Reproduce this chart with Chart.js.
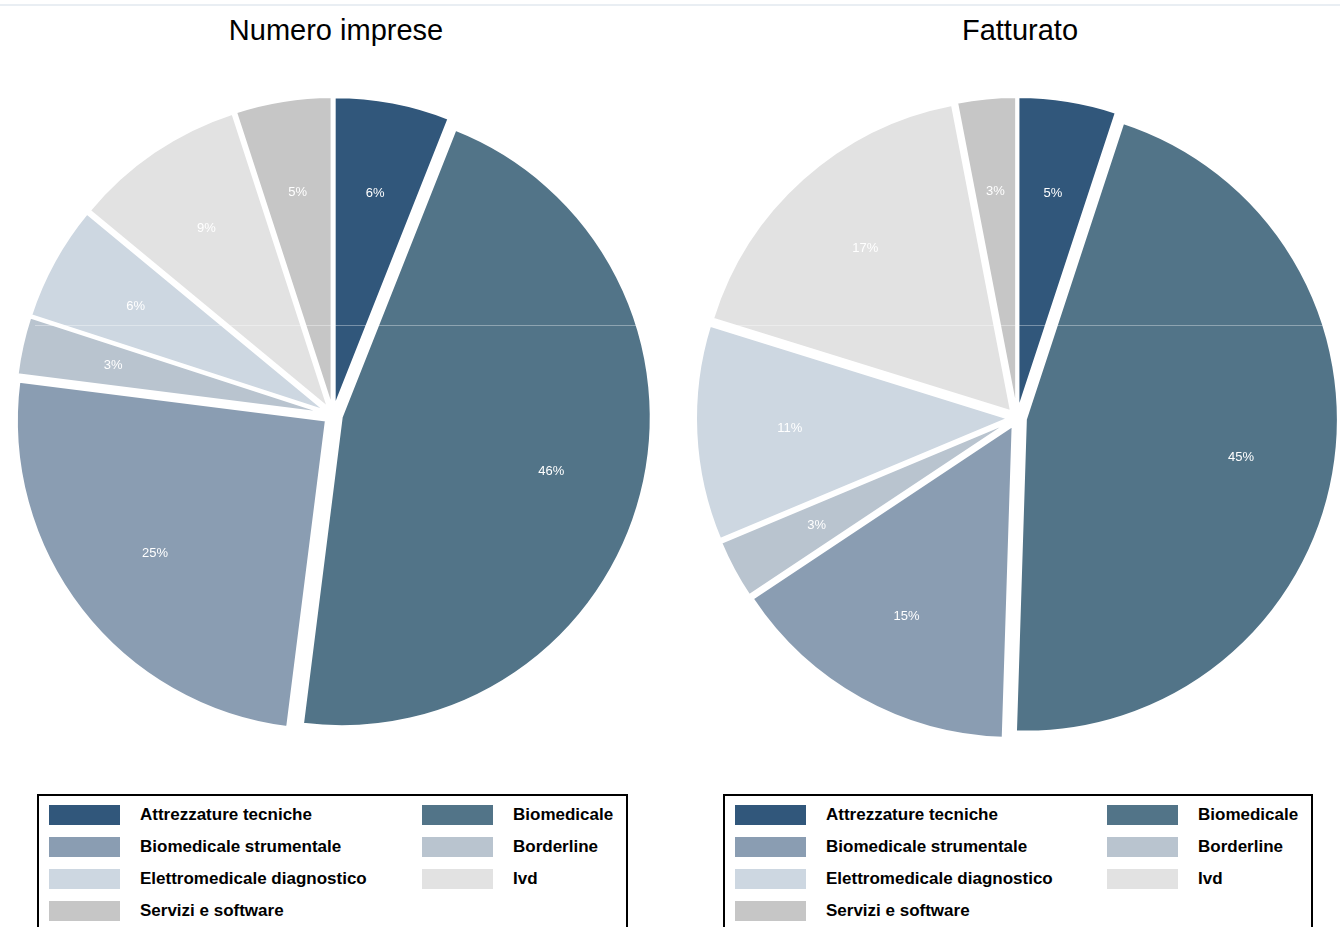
<!DOCTYPE html>
<html lang="it">
<head>
<meta charset="utf-8">
<title>Numero imprese e fatturato per comparto</title>
<script src="https://cdn.jsdelivr.net/npm/chart.js@4/dist/chart.umd.min.js"></script>
<style>
    html, body {
        margin: 0;
        padding: 0;
        width: 1340px;
        height: 927px;
        overflow: hidden;
        background: #ffffff;
        font-family: "Liberation Sans", Arial, sans-serif;
    }
    .topLine {
        position: absolute;
        left: 0;
        top: 4px;
        width: 1340px;
        height: 2px;
        background: #e9eef3;
    }
    .chartTitle {
        position: absolute;
        top: 14px;
        width: 400px;
        text-align: center;
        font-size: 29px;
        color: #000000;
    }
    .pieCanvas {
        position: absolute;
    }
    .scanLine {
        position: absolute;
        left: 35px;
        top: 325px;
        width: 1305px;
        height: 1px;
        background: rgba(255, 255, 255, 0.35);
        pointer-events: none;
    }
    .legendBox {
        position: absolute;
        top: 794px;
        height: 160px;
        border: 2px solid #000000;
        box-sizing: border-box;
        background: #ffffff;
    }
    .legendItem {
        position: absolute;
        height: 20px;
        font-size: 17px;
        font-weight: bold;
        line-height: 20px;
        color: #000000;
        white-space: nowrap;
    }
    .legendSwatch {
        position: absolute;
        left: 0;
        top: 0;
        width: 71px;
        height: 20px;
    }
    .legendText {
        position: absolute;
        top: 0;
    }
</style>
</head>
<body>
<div class="topLine"></div>

<div class="chartTitle" id="titleLeft" style="left: 136px;"></div>
<div class="chartTitle" id="titleRight" style="left: 820px;"></div>

<canvas class="pieCanvas" id="pieLeft" width="660" height="660" style="left: 3px; top: 85px;"></canvas>
<canvas class="pieCanvas" id="pieRight" width="660" height="660" style="left: 687px; top: 88px;"></canvas>

<div class="scanLine"></div>

<div class="legendBox" id="legendLeft" style="left: 37px; width: 591px;"></div>
<div class="legendBox" id="legendRight" style="left: 723px; width: 590px;"></div>

<script>
// Comparti, nello stesso ordine delle fette (senso orario da ore 12)
const categories = [
    'Attrezzature tecniche',
    'Biomedicale',
    'Biomedicale strumentale',
    'Borderline',
    'Elettromedicale diagnostico',
    'Ivd',
    'Servizi e software'
];

// Quote percentuali
const impreseValues = [6, 46, 25, 3, 6, 9, 5];
const fatturatoValues = [5, 45, 15, 3, 11, 17, 3];

const titles = ['Numero imprese', 'Fatturato'];

const sliceColors = [
    '#31577b',
    '#527488',
    '#8a9db2',
    '#b9c4cf',
    '#cdd7e1',
    '#e2e2e2',
    '#c6c6c6'
];

// Distacco delle fette dal centro, in pixel
const SLICE_SHIFT = 9;

// Torta "esplosa": ogni fetta viene traslata lungo la sua bisettrice,
// senza cambiarne il raggio (l'opzione offset di Chart.js lo allarga)
const explodeSlices = {
    id: 'explodeSlices',
    afterDatasetsUpdate(chart) {
        chart.getDatasetMeta(0).data.forEach(function(arc) {
            const baseDraw = Object.getPrototypeOf(arc).draw;
            arc.draw = function(ctx) {
                const mid = (this.startAngle + this.endAngle) / 2;
                ctx.save();
                ctx.translate(Math.cos(mid) * SLICE_SHIFT, Math.sin(mid) * SLICE_SHIFT);
                baseDraw.call(this, ctx);
                ctx.restore();
            };
        });
    }
};

// Scrive le percentuali dentro le fette, a circa 7/10 del raggio
const sliceLabels = {
    id: 'sliceLabels',
    afterDatasetsDraw(chart) {
        const ctx = chart.ctx;
        const meta = chart.getDatasetMeta(0);
        const values = chart.data.datasets[0].data;
        ctx.save();
        ctx.font = '13px "Liberation Sans", Arial, sans-serif';
        ctx.fillStyle = '#ffffff';
        ctx.textAlign = 'center';
        ctx.textBaseline = 'middle';
        meta.data.forEach(function(arc, i) {
            const p = arc.getProps(['x', 'y', 'startAngle', 'endAngle', 'outerRadius']);
            const mid = (p.startAngle + p.endAngle) / 2;
            const r = p.outerRadius * 0.7 + SLICE_SHIFT;
            ctx.fillText(values[i] + '%', p.x + Math.cos(mid) * r, p.y + Math.sin(mid) * r);
        });
        ctx.restore();
    }
};

function drawPie(canvasId, values, radius) {
    const ctx = document.getElementById(canvasId).getContext('2d');
    return new Chart(ctx, {
        type: 'pie',
        data: {
            labels: categories,
            datasets: [{
                data: values,
                backgroundColor: sliceColors,
                borderColor: '#ffffff',
                borderWidth: 2,
                radius: radius,
                clip: false
            }]
        },
        options: {
            responsive: false,
            animation: false,
            events: [],
            plugins: {
                legend: { display: false },
                tooltip: { enabled: false },
                title: { display: false }
            }
        },
        plugins: [explodeSlices, sliceLabels]
    });
}

// Legenda su due colonne, righe da sinistra a destra
function buildLegend(boxId, col2Left) {
    const box = document.getElementById(boxId);
    categories.forEach(function(name, i) {
        const row = Math.floor(i / 2);
        const col = i % 2;
        const item = document.createElement('div');
        item.className = 'legendItem';
        item.style.left = (col === 0 ? 10 : col2Left) + 'px';
        item.style.top = (9 + row * 32) + 'px';

        const swatch = document.createElement('div');
        swatch.className = 'legendSwatch';
        swatch.style.background = sliceColors[i];

        const text = document.createElement('span');
        text.className = 'legendText';
        text.style.left = '91px';
        text.textContent = name;

        item.appendChild(swatch);
        item.appendChild(text);
        box.appendChild(item);
    });
}

document.getElementById('titleLeft').textContent = titles[0];
document.getElementById('titleRight').textContent = titles[1];

drawPie('pieLeft', impreseValues, 309);
drawPie('pieRight', fatturatoValues, 312);

buildLegend('legendLeft', 383);
buildLegend('legendRight', 382);
</script>
</body>
</html>
